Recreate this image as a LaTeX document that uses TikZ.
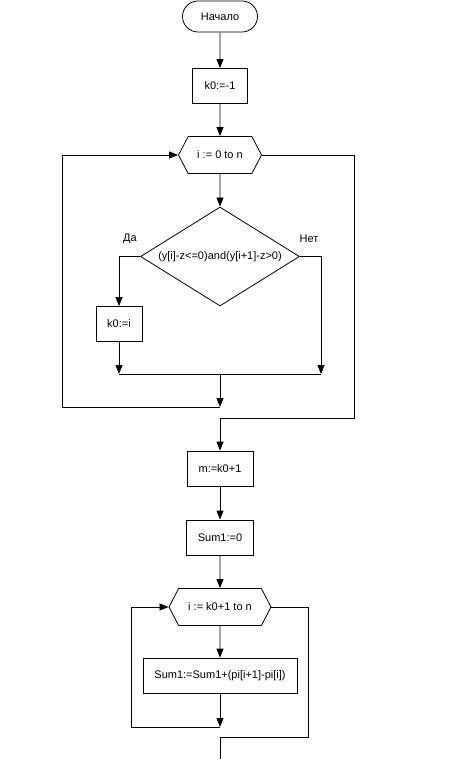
\documentclass[tikz,border=0pt]{standalone}
\usepackage{fontspec}
\setmainfont{Liberation Sans}
\usetikzlibrary{shapes.geometric,shapes.misc,shapes.symbols,arrows.meta}
\begin{document}
\begin{tikzpicture}[x=1pt,y=-1pt,line width=0.8pt,>={Triangle[length=9pt,width=7pt]},
  font=\fontsize{11}{13}\selectfont,
  blk/.style={draw,rectangle,inner sep=0pt,minimum height=35pt},
  term/.style={draw,rounded rectangle,inner sep=0pt,minimum width=75pt,minimum height=31pt},
  loopbox/.style={draw,signal,signal to=west and east,signal pointer angle=125,inner sep=0pt,minimum height=37pt},
  cond/.style={draw,diamond,aspect=1.6,inner sep=0pt,minimum width=159pt,minimum height=99pt}]
\useasboundingbox (0,0) rectangle (471,759);
\node[term] (start) at (220,16.5) {Начало};
\node[blk,minimum width=55pt] (k0) at (220,86) {k0:=-1};
\node[loopbox,minimum width=83pt] (for1) at (220,155) {i := 0 to n};
\node[cond] (if) at (220,256.5) {(y[i]-z<=0)and(y[i+1]-z>0)};
\node (yes) at (130,239) {Да};
\node (no) at (309,239) {Нет};
\node[blk,minimum width=46pt] (k0i) at (119,324) {k0:=i};
\node[blk,minimum width=66pt] (m) at (220,468.5) {m:=k0+1};
\node[blk,minimum width=67pt] (s0) at (220,537.5) {Sum1:=0};
\node[loopbox,minimum width=102pt] (for2) at (220,607) {i := k0+1 to n};
\node[blk,minimum width=154pt] (sum) at (220,675.5) {Sum1:=Sum1+(pi[i+1]-pi[i])};

\coordinate (j1l) at (119,374);
\coordinate (j1r) at (321,374);
\coordinate (j1) at (220,374);
\coordinate (j2) at (220,407);
\coordinate (lft1) at (62,407);
\coordinate (rgt1) at (354,418);
\coordinate (j3) at (220,727);
\coordinate (lft2) at (131,727);
\coordinate (rgt2) at (308,737);
\coordinate (out) at (220,759);

\path[draw,->] (start) -- (k0);
\path[draw,->] (k0) -- (for1);
\path[draw,->] (for1) -- (if);
\path[draw,->] (if.west) -| (k0i);
\path[draw,->] (if.east) -| (j1r);
\path[draw,->] (k0i) -- (j1l);
\path[draw] (j1l) -- (j1r);
\path[draw,->] (j1) -- (j2);
\path[draw,->] (j2) -- (lft1) |- (for1.west);
\path[draw,->] (for1.east) -| (rgt1) -| (m);
\path[draw,->] (m) -- (s0);
\path[draw,->] (s0) -- (for2);
\path[draw,->] (for2) -- (sum);
\path[draw,->] (sum) -- (j3);
\path[draw,->] (j3) -- (lft2) |- (for2.west);
\path[draw] (for2.east) -| (rgt2) -| (out);
\end{tikzpicture}
\end{document}
